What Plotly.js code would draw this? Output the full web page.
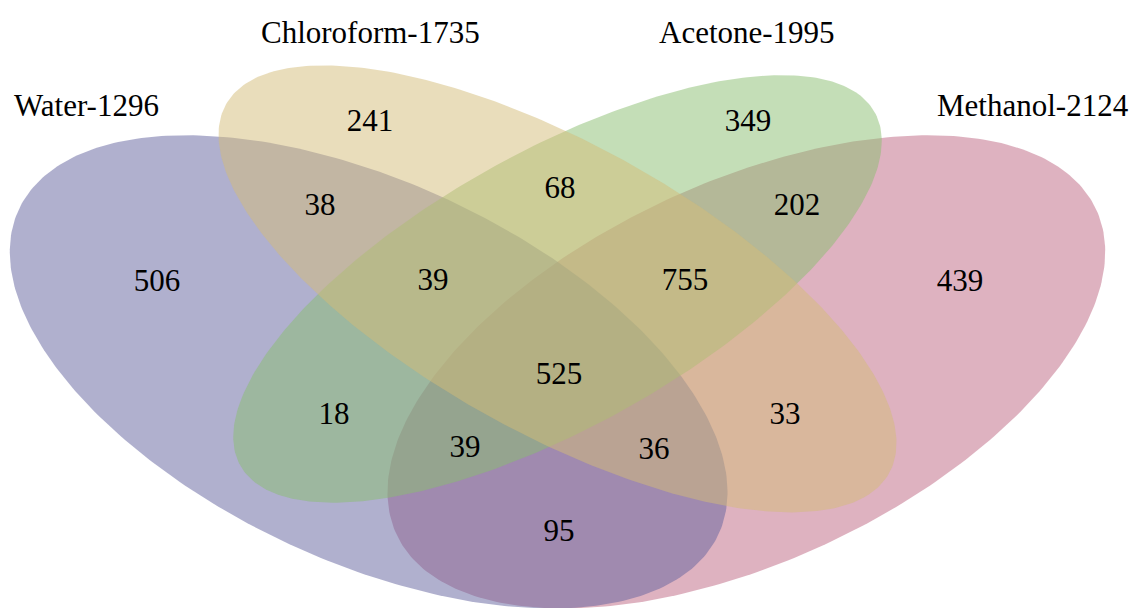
<!DOCTYPE html>
<html>
<head>
<meta charset="utf-8">
<script src="https://cdn.plot.ly/plotly-3.0.1.min.js"></script>
<style>
  html, body { margin: 0; padding: 0; background: #ffffff; }
  #chart { width: 1130px; height: 608px; }
</style>
</head>
<body>
<div id="chart"></div>
<script>
// ---- data ----
const setNames = ['Water', 'Chloroform', 'Acetone', 'Methanol'];
const setTotals = [1296, 1735, 1995, 2124];

// region keys: W = Water, C = Chloroform, A = Acetone, M = Methanol
const regionKeys = ['W', 'C', 'A', 'M', 'WC', 'CA', 'AM', 'WCA', 'CAM', 'WCAM', 'WA', 'CM', 'WAM', 'WCM', 'WM'];
const regionCounts = [506, 241, 349, 439, 38, 68, 202, 39, 755, 525, 18, 33, 39, 36, 95];

// ---- layout geometry (pixel positions, separate from data) ----
const regionX = [157, 370, 748, 960, 320, 560, 797, 433, 685, 559, 334, 785, 465, 654, 559];
const regionY = [283, 123, 123, 283, 207, 190, 207, 282, 282, 376, 416, 416, 449, 451, 533];

// set label anchors: [x, y, xanchor]
const setLabelPos = [[12, 105, 'left'], [370, 32, 'center'], [747, 32, 'center'], [935, 105, 'left']];

// ellipses in unit space (center u, center v, semi-major, semi-minor, angle deg)
const ellipseGeom = {
  Water:      [0.35, 0.47, 0.35, 0.20, -45],
  Chloroform: [0.50, 0.57, 0.35, 0.15, -45],
  Acetone:    [0.50, 0.57, 0.335, 0.143, 45],
  Methanol:   [0.65, 0.47, 0.35, 0.20, 45]
};
const baseColors = {
  Water: 'rgba(97,97,157,0.5)',
  Chloroform: 'rgba(211,187,119,0.5)',
  Acetone: 'rgba(137,189,111,0.5)',
  Methanol: 'rgba(189,101,129,0.5)'
};
const drawOrder = ['Methanol', 'Water', 'Acetone', 'Chloroform'];

// unit -> pixel mapping
const SX = 1259, X0 = -72, SY = 830, Y0 = 762;

function ellipse(g) {
  const [cu, cv, a, b, ang] = g;
  const phi = ang * Math.PI / 180;
  const xs = [], ys = [];
  for (let i = 0; i <= 360; i++) {
    const t = i * Math.PI / 180;
    const u = cu + a * Math.cos(t) * Math.cos(phi) - b * Math.sin(t) * Math.sin(phi);
    const v = cv + a * Math.cos(t) * Math.sin(phi) + b * Math.sin(t) * Math.cos(phi);
    xs.push(X0 + SX * u);
    ys.push(Y0 - SY * v);
  }
  return { xs, ys };
}

const traces = [];
drawOrder.forEach(name => {
  const e = ellipse(ellipseGeom[name]);
  traces.push({
    type: 'scatter', mode: 'lines', x: e.xs, y: e.ys,
    fill: 'toself', fillcolor: baseColors[name],
    line: { width: 0, color: 'rgba(0,0,0,0)' },
    hoverinfo: 'skip', name: name
  });
});

traces.push({
  type: 'scatter', mode: 'text',
  x: regionX, y: regionY,
  text: regionCounts.map(String),
  textposition: 'middle center',
  textfont: { family: 'Liberation Serif, Times New Roman, serif', size: 31, color: '#000000' },
  hoverinfo: 'skip', cliponaxis: false
});

const annotations = setNames.map((n, i) => ({
  x: setLabelPos[i][0], y: setLabelPos[i][1],
  xref: 'x', yref: 'y',
  text: n + '-' + setTotals[i],
  showarrow: false,
  xanchor: setLabelPos[i][2], yanchor: 'middle',
  font: { family: 'Liberation Serif, Times New Roman, serif', size: 31, color: '#000000' }
}));

const layout = {
  width: 1130, height: 608,
  margin: { l: 0, r: 0, t: 0, b: 0, pad: 0 },
  paper_bgcolor: '#ffffff', plot_bgcolor: '#ffffff',
  showlegend: false, hovermode: false,
  xaxis: { range: [0, 1130], visible: false, fixedrange: true },
  yaxis: { range: [608, 0], visible: false, fixedrange: true },
  annotations: annotations
};

Plotly.newPlot('chart', traces, layout, { displayModeBar: false, staticPlot: true });
</script>
</body>
</html>
